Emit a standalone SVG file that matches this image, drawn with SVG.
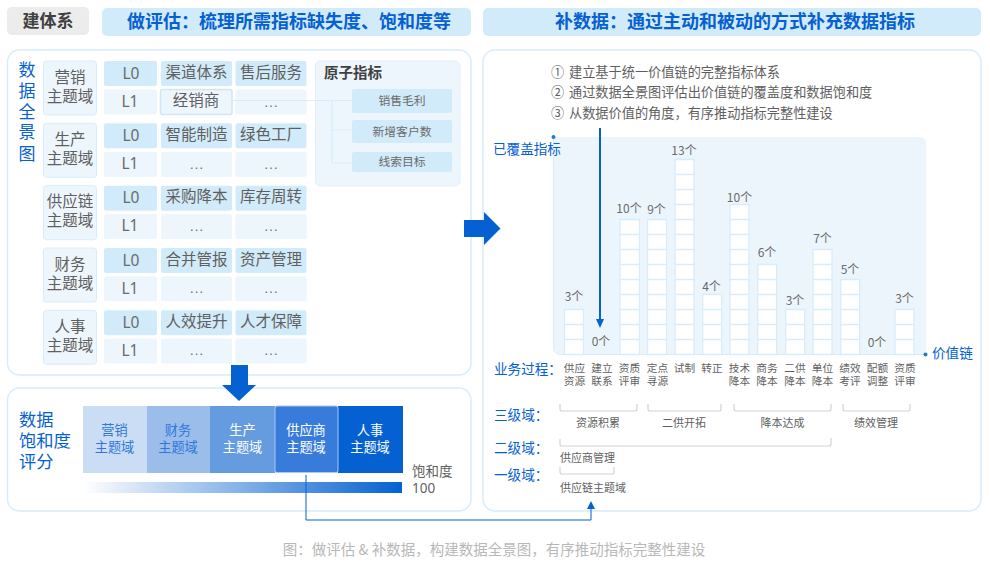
<svg xmlns="http://www.w3.org/2000/svg" width="990" height="562" viewBox="0 0 990 562">
<style>
text{font-family:"Noto Sans CJK SC","Noto Sans",sans-serif;fill:#5f5f5f;text-anchor:middle}
.panel{fill:#fff;stroke:#d8edfb;stroke-width:1.5}
.hd{fill:#d2ebfa}
.htx{font-size:18px;font-weight:700;fill:#0561d1}
.dom{fill:#eef6fd;stroke:#d8edfb;stroke-width:1}
.l0{fill:#d2ebfa}
.l1{fill:#eef6fd}
.t{font-size:15.5px}
.f{font-family:"Noto Sans","Noto Sans CJK SC",sans-serif;font-size:15.5px;fill:#6a6a6a}
.d{font-family:"Liberation Sans",sans-serif;font-size:15px;fill:#777}
.blue{fill:#0561d1}
.lab{font-size:13.6px;fill:#0561d1;text-anchor:start}
.cell{fill:#fff;stroke:#d8edfb;stroke-width:1.3}
.n{font-size:12px;fill:#6a6a6a}
.p{font-size:10.7px}
.s{font-size:11px}
.b{font-size:13.2px;text-anchor:start}
.sat{font-size:13.2px;fill:#fff}
.br{fill:none;stroke:#d4d4d4;stroke-width:1.2}
.at{fill:#d2ebfa}
.att{font-size:11.8px;fill:#6a6a6a}
.ln{fill:none;stroke:#d8edfb;stroke-width:1.2}
.con{fill:none;stroke:#0561d1}
</style>
<defs>
<linearGradient id="g"><stop offset="0" stop-color="#0561d1" stop-opacity="0"/><stop offset="1" stop-color="#0561d1"/></linearGradient>
</defs>
<g id="headers">
<rect x="7" y="7" width="82" height="28" rx="5" fill="#ececec"/>
<text x="48" y="27" font-size="17" font-weight="700" style="fill:#404040">建体系</text>
<rect class="hd" x="102" y="8" width="369" height="28" rx="5"/>
<text class="htx" x="289" y="28">做评估&#xFF1A;梳理所需指标缺失度、饱和度等</text>
<rect class="hd" x="483" y="8" width="498" height="28" rx="5"/>
<text class="htx" x="735" y="28">补数据&#xFF1A;通过主动和被动的方式补充数据指标</text>
</g>
<g id="panels">
<rect class="panel" x="7.5" y="50" width="463.5" height="325" rx="12"/>
<rect class="panel" x="7.5" y="388" width="463.5" height="123" rx="12"/>
<rect class="panel" x="483" y="50" width="498" height="461" rx="12"/>
</g>
<g id="title-map">
<text x="27" y="76" font-size="17" style="fill:#0561d1">数</text>
<text x="27" y="97" font-size="17" style="fill:#0561d1">据</text>
<text x="27" y="118" font-size="17" style="fill:#0561d1">全</text>
<text x="27" y="138" font-size="17" style="fill:#0561d1">景</text>
<text x="27" y="160" font-size="17" style="fill:#0561d1">图</text>
</g>
<g id="domain-marketing">
<rect class="dom" x="43.500" y="61" width="53" height="54" rx="3"/>
<text class="t" x="70" y="83">营销</text><text class="t" x="70" y="102">主题域</text>
<rect class="l0" x="104" y="61" width="53" height="25" rx="2"/><text class="f" x="131" y="79">L0</text>
<rect class="l0" x="161" y="61" width="71" height="25" rx="2"/><text class="t" x="196.500" y="78">渠道体系</text>
<rect class="l0" x="235.500" y="61" width="71" height="25" rx="2"/><text class="t" x="271" y="78">售后服务</text>
<rect class="l1" x="104" y="89.500" width="53" height="25" rx="2"/><text class="f" x="130" y="107">L1</text>
<rect class="l1" x="160.500" y="89.500" width="71.500" height="25" rx="2" style="stroke:#cfe6f7;stroke-width:1.5"/><text class="t" x="196" y="106">经销商</text>
<rect class="l1" x="235.500" y="89.500" width="71" height="25" rx="2"/><text class="d" x="271" y="107">…</text>
</g>
<g id="domain-production">
<rect class="dom" x="43.500" y="123.300" width="53" height="54" rx="3"/>
<text class="t" x="70" y="145">生产</text><text class="t" x="70" y="164">主题域</text>
<rect class="l0" x="104" y="123.300" width="53" height="25" rx="2"/><text class="f" x="131" y="141">L0</text>
<rect class="l0" x="161" y="123.300" width="71" height="25" rx="2"/><text class="t" x="196.500" y="140">智能制造</text>
<rect class="l0" x="235.500" y="123.300" width="71" height="25" rx="2"/><text class="t" x="271" y="140">绿色工厂</text>
<rect class="l1" x="104" y="152" width="53" height="25" rx="2"/><text class="f" x="130" y="169">L1</text>
<rect class="l1" x="161" y="152" width="71" height="25" rx="2"/><text class="d" x="196.500" y="169">…</text>
<rect class="l1" x="235.500" y="152" width="71" height="25" rx="2"/><text class="d" x="271" y="169">…</text>
</g>
<g id="domain-supply">
<rect class="dom" x="43.500" y="185.700" width="53" height="54" rx="3"/>
<text class="t" x="70" y="207">供应链</text><text class="t" x="70" y="226">主题域</text>
<rect class="l0" x="104" y="185.700" width="53" height="25" rx="2"/><text class="f" x="131" y="203">L0</text>
<rect class="l0" x="161" y="185.700" width="71" height="25" rx="2"/><text class="t" x="196.500" y="202">采购降本</text>
<rect class="l0" x="235.500" y="185.700" width="71" height="25" rx="2"/><text class="t" x="271" y="202">库存周转</text>
<rect class="l1" x="104" y="214" width="53" height="25" rx="2"/><text class="f" x="130" y="231">L1</text>
<rect class="l1" x="161" y="214" width="71" height="25" rx="2"/><text class="d" x="196.500" y="231">…</text>
<rect class="l1" x="235.500" y="214" width="71" height="25" rx="2"/><text class="d" x="271" y="231">…</text>
</g>
<g id="domain-finance">
<rect class="dom" x="43.500" y="248" width="53" height="54" rx="3"/>
<text class="t" x="70" y="270">财务</text><text class="t" x="70" y="289">主题域</text>
<rect class="l0" x="104" y="248" width="53" height="25" rx="2"/><text class="f" x="131" y="266">L0</text>
<rect class="l0" x="161" y="248" width="71" height="25" rx="2"/><text class="t" x="196.500" y="265">合并管报</text>
<rect class="l0" x="235.500" y="248" width="71" height="25" rx="2"/><text class="t" x="271" y="265">资产管理</text>
<rect class="l1" x="104" y="276.300" width="53" height="25" rx="2"/><text class="f" x="130" y="294">L1</text>
<rect class="l1" x="161" y="276.300" width="71" height="25" rx="2"/><text class="d" x="196.500" y="293">…</text>
<rect class="l1" x="235.500" y="276.300" width="71" height="25" rx="2"/><text class="d" x="271" y="293">…</text>
</g>
<g id="domain-hr">
<rect class="dom" x="43.500" y="310.300" width="53" height="54" rx="3"/>
<text class="t" x="70" y="332">人事</text><text class="t" x="70" y="351">主题域</text>
<rect class="l0" x="104" y="310.300" width="53" height="25" rx="2"/><text class="f" x="131" y="328">L0</text>
<rect class="l0" x="161" y="310.300" width="71" height="25" rx="2"/><text class="t" x="196.500" y="327">人效提升</text>
<rect class="l0" x="235.500" y="310.300" width="71" height="25" rx="2"/><text class="t" x="271" y="327">人才保障</text>
<rect class="l1" x="104" y="338.500" width="53" height="25" rx="2"/><text class="f" x="130" y="356">L1</text>
<rect class="l1" x="161" y="338.500" width="71" height="25" rx="2"/><text class="d" x="196.500" y="355">…</text>
<rect class="l1" x="235.500" y="338.500" width="71" height="25" rx="2"/><text class="d" x="271" y="355">…</text>
</g>
<g id="atomic">
<rect x="315.500" y="61" width="144.500" height="125" rx="5" fill="#eef6fd" stroke="#e2f0fb"/>
<text x="353" y="78" font-size="14.500" font-weight="700" style="fill:#404040">原子指标</text>
<rect class="at" x="352" y="89" width="100" height="24" rx="2"/><text class="att" x="402" y="105">销售毛利</text>
<rect class="at" x="352" y="120" width="100" height="23" rx="2"/><text class="att" x="402" y="136">新增客户数</text>
<rect class="at" x="352" y="152" width="100" height="20" rx="2"/><text class="att" x="402" y="166">线索目标</text>
</g>
<g id="saturation">
<text x="19" y="426" font-size="17.300" style="fill:#0561d1;text-anchor:start">数据</text>
<text x="19" y="447" font-size="17.300" style="fill:#0561d1;text-anchor:start">饱和度</text>
<text x="19" y="468" font-size="17.300" style="fill:#0561d1;text-anchor:start">评分</text>
<rect x="83" y="406" width="64" height="67" fill="#cbddf4"/>
<text class="sat" x="114.500" y="435" style="fill:#2f78d8">营销</text><text class="sat" x="114.500" y="452" style="fill:#2f78d8">主题域</text>
<rect x="147" y="406" width="63" height="67" fill="#9bbdea"/>
<text class="sat" x="178" y="435" style="fill:#2f78d8">财务</text><text class="sat" x="178" y="452" style="fill:#2f78d8">主题域</text>
<rect x="210" y="406" width="65" height="67" fill="#659ce0"/>
<text class="sat" x="242.500" y="435">生产</text><text class="sat" x="242.500" y="452">主题域</text>
<rect x="338" y="406" width="65" height="67" fill="#0561d1"/>
<text class="sat" x="370" y="435">人事</text><text class="sat" x="370" y="452">主题域</text>
<rect x="275" y="406" width="63" height="66.500" rx="2" fill="#377bdb" stroke="#a9c9f0" stroke-width="1"/>
<text class="sat" x="306" y="435">供应商</text><text class="sat" x="306" y="452">主题域</text>
<rect x="83" y="482" width="319" height="11" fill="url(#g)"/>
<text x="412" y="476" font-size="13.500" style="text-anchor:start">饱和度</text>
<text x="412" y="493" font-size="13.500" style="text-anchor:start;font-family:'Noto Sans',sans-serif">100</text>
</g>
<g id="bullets">
<text class="b" x="551" y="77">①</text><text class="b" x="569" y="77">建立基于统一价值链的完整指标体系</text>
<text class="b" x="551" y="97">②</text><text class="b" x="569" y="97">通过数据全景图评估出价值链的覆盖度和数据饱和度</text>
<text class="b" x="551" y="118">③</text><text class="b" x="569" y="118">从数据价值的角度&#xFF0C;有序推动指标完整性建设</text>
</g>
<g id="chart">
<path d="M553.500 137H920a6 6 0 0 1 6 6V354.500H561a7.500 7.500 0 0 1-7.500-7.500z" fill="#edf5fc"/>
<path class="ln" d="M553.500 137V347a7.500 7.500 0 0 0 7.500 7.500H924"/>
<circle cx="553.500" cy="137" r="2" fill="#1f7cc9"/><circle cx="925.500" cy="354.500" r="2" fill="#1f7cc9"/>
<text class="lab" x="493" y="154">已覆盖指标</text>
<text class="lab" x="932" y="358">价值链</text>
<path class="cell" d="M564.500 309.500h19v45h-19zM564.500 324.500h19M564.500 339.500h19"/>
<path class="cell" d="M620 219.500h19.500v135H620zM620 234.500h19.500M620 249.500h19.500M620 264.500h19.500M620 279.500h19.500M620 294.500h19.500M620 309.500h19.500M620 324.500h19.500M620 339.500h19.500"/>
<path class="cell" d="M647.500 219.500h19v135h-19zM647.500 234.500h19M647.500 249.500h19M647.500 264.500h19M647.500 279.500h19M647.500 294.500h19M647.500 309.500h19M647.500 324.500h19M647.500 339.500h19"/>
<path class="cell" d="M675 159.500h19v195h-19zM675 174.500h19M675 189.500h19M675 204.500h19M675 219.500h19M675 234.500h19M675 249.500h19M675 264.500h19M675 279.500h19M675 294.500h19M675 309.500h19M675 324.500h19M675 339.500h19"/>
<path class="cell" d="M702.700 294.500h19v60h-19zM702.700 309.500h19M702.700 324.500h19M702.700 339.500h19"/>
<path class="cell" d="M730 204.500h19v150h-19zM730 219.500h19M730 234.500h19M730 249.500h19M730 264.500h19M730 279.500h19M730 294.500h19M730 309.500h19M730 324.500h19M730 339.500h19"/>
<path class="cell" d="M757.700 264.500h19v90h-19zM757.700 279.500h19M757.700 294.500h19M757.700 309.500h19M757.700 324.500h19M757.700 339.500h19"/>
<path class="cell" d="M785.700 309.500h19v45h-19zM785.700 324.500h19M785.700 339.500h19"/>
<path class="cell" d="M813 249.500h19v105h-19zM813 264.500h19M813 279.500h19M813 294.500h19M813 309.500h19M813 324.500h19M813 339.500h19"/>
<path class="cell" d="M840.700 279.500h19v75h-19zM840.700 294.500h19M840.700 309.500h19M840.700 324.500h19M840.700 339.500h19"/>
<path class="cell" d="M895 309.500h19v45h-19zM895 324.500h19M895 339.500h19"/>
<text class="n" x="574" y="301">3个</text><text class="n" x="601" y="346">0个</text><text class="n" x="629" y="213">10个</text><text class="n" x="656.500" y="214">9个</text><text class="n" x="684" y="155">13个</text><text class="n" x="711.500" y="291">4个</text><text class="n" x="739.500" y="202">10个</text><text class="n" x="767" y="257">6个</text><text class="n" x="795" y="305">3个</text><text class="n" x="822.500" y="243">7个</text><text class="n" x="850" y="274">5个</text><text class="n" x="877" y="347">0个</text><text class="n" x="904.500" y="303">3个</text>
</g>
<g id="axis-labels">
<text class="lab" x="494" y="374">业务过程&#xFF1A;</text>
<text class="lab" x="494" y="420">三级域&#xFF1A;</text>
<text class="lab" x="494" y="453">二级域&#xFF1A;</text>
<text class="lab" x="494" y="480">一级域&#xFF1A;</text>
<text class="p" x="574.500" y="372">供应</text><text class="p" x="574.500" y="385">资源</text>
<text class="p" x="602" y="372">建立</text><text class="p" x="602" y="385">联系</text>
<text class="p" x="629.500" y="372">资质</text><text class="p" x="629.500" y="385">评审</text>
<text class="p" x="657.500" y="372">定点</text><text class="p" x="657.500" y="385">寻源</text>
<text class="p" x="684.500" y="372">试制</text>
<text class="p" x="712" y="372">转正</text>
<text class="p" x="739.500" y="372">技术</text><text class="p" x="739.500" y="385">降本</text>
<text class="p" x="767" y="372">商务</text><text class="p" x="767" y="385">降本</text>
<text class="p" x="795" y="372">二供</text><text class="p" x="795" y="385">降本</text>
<text class="p" x="822.500" y="372">单位</text><text class="p" x="822.500" y="385">降本</text>
<text class="p" x="850" y="372">绩效</text><text class="p" x="850" y="385">考评</text>
<text class="p" x="877.500" y="372">配额</text><text class="p" x="877.500" y="385">调整</text>
<text class="p" x="905" y="372">资质</text><text class="p" x="905" y="385">评审</text>
</g>
<g id="brackets">
<path class="br" d="M560 404v5q0 2 2 2H635q2 0 2-2v-5M648 404v5q0 2 2 2H719q2 0 2-2v-5M734 404v5q0 2 2 2H829q2 0 2-2v-5M843 404v5q0 2 2 2H908q2 0 2-2v-5M560 439v5q0 2 2 2H829q2 0 2-2v-6M560 467v5q0 2 2 2H612q2 0 2-2v-5"/>
<text class="s" x="598" y="427">资源积累</text><text class="s" x="684" y="427">二供开拓</text><text class="s" x="782.500" y="427">降本达成</text><text class="s" x="876" y="427">绩效管理</text>
<text class="s" x="587.500" y="462">供应商管理</text><text class="s" x="593" y="492">供应链主题域</text>
</g>
<g id="connectors">
<path class="ln" d="M232 100.500H352M332 100.500V163H352M332 130H352"/>
<path d="M231 365h17v20h8l-17 16l-17-16h9z" class="blue"/>
<path d="M464 220h20v-8l16.500 16.500L484 245v-8H464z" class="blue"/>
<path class="con" stroke-width="2" d="M600 128V322"/>
<path class="blue" d="M596 319h8l-4 9z"/>
<path class="con" stroke-width="1" d="M306 475V520H591V505"/>
<path class="blue" d="M587 509l4-8l4 8z"/>
</g>
<text id="caption" x="494" y="555" font-size="14.500" style="fill:#b8b8b8">图&#xFF1A;做评估 &amp; 补数据&#xFF0C;构建数据全景图&#xFF0C;有序推动指标完整性建设</text>
</svg>
